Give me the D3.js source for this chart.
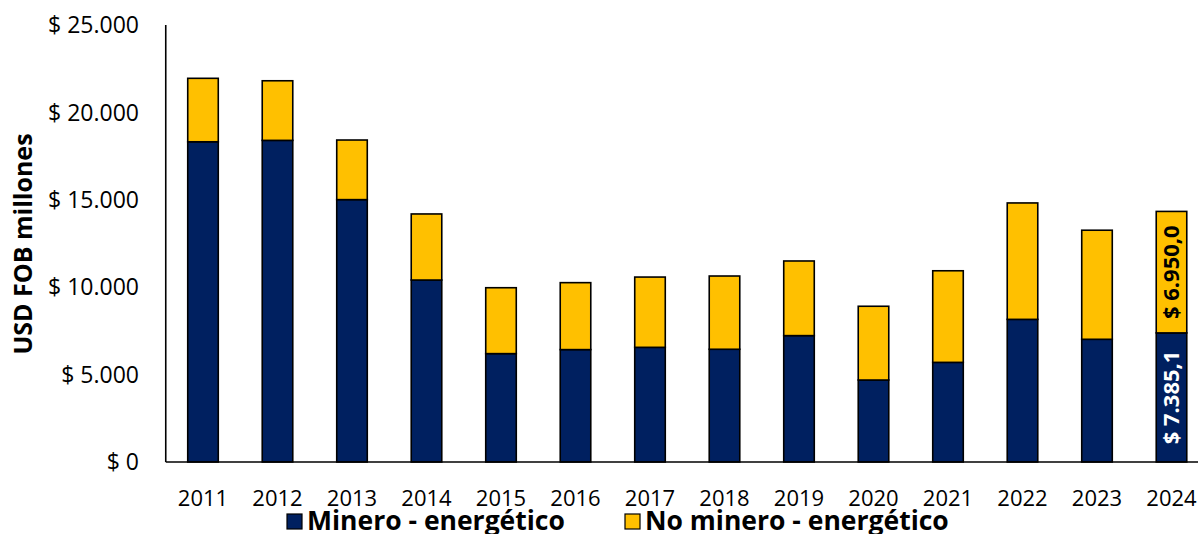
<!DOCTYPE html>
<html>
<head>
<meta charset="utf-8">
<script src="https://cdn.jsdelivr.net/npm/d3@7"></script>
<style>
  html, body { margin: 0; padding: 0; background: #fff; }
  svg { display: block; font-family: "Open Sans", sans-serif; }
</style>
</head>
<body>
<svg id="chart" width="1198" height="534"></svg>
<script>
// Exportaciones por año, USD FOB millones
const years = ["2011","2012","2013","2014","2015","2016","2017","2018","2019","2020","2021","2022","2023","2024"];
const minero = [18320, 18400, 15010, 10410, 6200, 6430, 6560, 6450, 7230, 4690, 5700, 8160, 7020, 7385.1];
const noMinero = [3630, 3410, 3410, 3780, 3770, 3830, 4020, 4190, 4270, 4220, 5240, 6660, 6240, 6950.0];
const seriesNames = ["Minero - energético", "No minero - energético"];
const seriesColors = ["#002060", "#FFC000"];
const labelColors = ["#ffffff", "#000000"];
const yTicks = [0, 5000, 10000, 15000, 20000, 25000];
const labeledYear = "2024";

const svg = d3.select("#chart");
const margin = { left: 165.75, top: 25, bottom: 462 };

const x = d3.scaleBand()
  .domain(years)
  .range([margin.left, margin.left + 74.5 * years.length])
  .paddingInner(0.59)
  .paddingOuter(0.295);

const y = d3.scaleLinear().domain([0, 25000]).range([margin.bottom, margin.top]);

const fmtNum = d3.formatLocale({ decimal: ",", thousands: ".", grouping: [3], currency: ["$", ""] });
const fmtTick = v => "$ " + fmtNum.format(",.0f")(v);
const fmtLabel = v => "$ " + fmtNum.format(",.1f")(v);

// rows for stacking
const rows = years.map((yr, i) => ({ year: yr, minero: minero[i], noMinero: noMinero[i] }));
const stack = d3.stack().keys(["minero", "noMinero"]);
const stacked = stack(rows);

// y tick labels
svg.append("g").selectAll("text")
  .data(yTicks)
  .join("text")
  .attr("x", 139)
  .attr("y", d => y(d))
  .attr("dy", "0.36em")
  .attr("text-anchor", "end")
  .attr("font-size", 23)
  .attr("fill", "#000")
  .text(fmtTick);

// bars
const layers = svg.append("g").selectAll("g")
  .data(stacked)
  .join("g")
  .attr("fill", (d, i) => seriesColors[i]);

layers.selectAll("rect")
  .data(d => d)
  .join("rect")
  .attr("x", d => x(d.data.year))
  .attr("width", x.bandwidth())
  .attr("y", d => y(d[1]))
  .attr("height", d => y(d[0]) - y(d[1]))
  .attr("stroke", "#000")
  .attr("stroke-width", 1.6);

// value labels on the last year
stacked.forEach((layer, si) => {
  layer.filter(d => d.data.year === labeledYear).forEach(d => {
    const cx = x(d.data.year) + x.bandwidth() / 2;
    const cy = (y(d[0]) + y(d[1])) / 2;
    svg.append("text")
      .attr("transform", `translate(${cx},${cy}) rotate(-90)`)
      .attr("text-anchor", "middle")
      .attr("dy", "0.36em")
      .attr("font-size", 22)
      .attr("font-weight", "bold")
      .attr("fill", labelColors[si])
      .text(fmtLabel(d[1] - d[0]));
  });
});

// axes lines
svg.append("line")
  .attr("x1", margin.left).attr("x2", margin.left)
  .attr("y1", y(25000)).attr("y2", y(0))
  .attr("stroke", "#000").attr("stroke-width", 1.6);
svg.append("line")
  .attr("x1", margin.left).attr("x2", 1198)
  .attr("y1", y(0)).attr("y2", y(0))
  .attr("stroke", "#000").attr("stroke-width", 1.6);

// x labels
svg.append("g").selectAll("text")
  .data(years)
  .join("text")
  .attr("x", d => x(d) + x.bandwidth() / 2)
  .attr("y", 506)
  .attr("text-anchor", "middle")
  .attr("font-size", 22)
  .attr("fill", "#000")
  .text(d => d);

// y axis title
svg.append("text")
  .attr("transform", "translate(32,244) rotate(-90)")
  .attr("text-anchor", "middle")
  .attr("font-size", 25)
  .attr("font-weight", "bold")
  .attr("fill", "#000")
  .text("USD FOB millones");

// legend
const legendX = [287, 625];
const legend = svg.append("g").selectAll("g")
  .data(seriesNames)
  .join("g")
  .attr("transform", (d, i) => `translate(${legendX[i]},0)`);
legend.append("rect")
  .attr("x", 0).attr("y", 514)
  .attr("width", 15).attr("height", 15)
  .attr("fill", (d, i) => seriesColors[i])
  .attr("stroke", "#000").attr("stroke-width", 1.2);
legend.append("text")
  .attr("x", 20).attr("y", 530)
  .attr("font-size", 26.5)
  .attr("font-weight", "bold")
  .attr("fill", "#000")
  .text(d => d);
</script>
</body>
</html>
